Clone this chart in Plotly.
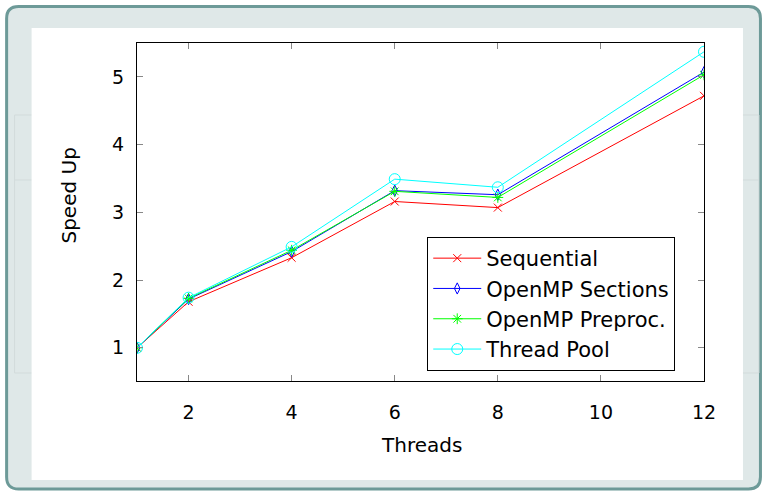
import plotly.graph_objects as go

threads = [1, 2, 4, 6, 8, 12]
sequential = [1.0, 1.68, 2.33, 3.16, 3.07, 4.72]
omp_sections = [1.0, 1.72, 2.42, 3.32, 3.26, 5.07]
omp_preproc = [1.0, 1.73, 2.44, 3.31, 3.22, 5.03]
thread_pool = [1.0, 1.74, 2.49, 3.49, 3.37, 5.37]
x_ticks = [2, 4, 6, 8, 10, 12]
y_ticks = [1, 2, 3, 4, 5]

W, H = 766, 492
L, R, T, B = 136.5, 704, 43, 381

def px(x):
    return (x - L) / (R - L)

def py(y):
    return (B - y) / (B - T)

FONT = "DejaVu Sans"

fig = go.Figure()
series = [
    ("Sequential", sequential, "#ff0000", "x-thin-open", 8),
    ("OpenMP Sections", omp_sections, "#0000ff", "diamond-tall-open", 8),
    ("OpenMP Preproc.", omp_preproc, "#00ff00", "asterisk-open", 9),
    ("Thread Pool", thread_pool, "#00ffff", "circle-open", 11),
]
for name, ys, col, sym, sz in series:
    fig.add_trace(go.Scatter(
        x=threads, y=ys, name=name, mode="lines+markers",
        line=dict(color=col, width=1),
        marker=dict(symbol=sym, size=sz, color=col, line=dict(color=col, width=1)),
    ))

def rpath(xa, xb, ya, yb, rad):
    rx = rad / (R - L)
    ry = rad / (B - T)
    return (f"M {xa+rx},{yb} L {xb-rx},{yb} Q {xb},{yb} {xb},{yb-ry} "
            f"L {xb},{ya+ry} Q {xb},{ya} {xb-rx},{ya} L {xa+rx},{ya} "
            f"Q {xa},{ya} {xa},{ya+ry} L {xa},{yb-ry} Q {xa},{yb} {xa+rx},{yb} Z")

shapes = [
    dict(type="path", xref="paper", yref="paper",
         path=rpath(px(6), px(760.5), py(489), py(6.5), 12),
         fillcolor="#dfe8e8", line=dict(color="#6d9a98", width=3), layer="below"),
    dict(type="rect", xref="paper", yref="paper",
         x0=px(14), x1=px(759), y0=py(373), y1=py(115),
         fillcolor="rgba(0,0,0,0)", line=dict(color="#d2dbdb", width=1), layer="below"),
    dict(type="line", xref="paper", yref="paper",
         x0=px(14), x1=px(759), y0=py(180), y1=py(180),
         line=dict(color="#d2dbdb", width=1), layer="below"),
    dict(type="rect", xref="paper", yref="paper",
         x0=px(31), x1=px(743), y0=py(480), y1=py(28),
         fillcolor="#ffffff", line=dict(width=0), layer="below"),
]

annotations = [
    dict(text="Threads", xref="paper", yref="paper", x=px(421), y=py(445),
         xanchor="center", yanchor="middle", showarrow=False,
         font=dict(family=FONT, size=20)),
    dict(text="Speed Up", xref="paper", yref="paper", x=px(68), y=py(196),
         xanchor="center", yanchor="middle", showarrow=False, textangle=-90,
         font=dict(family=FONT, size=20)),
]

fig.update_layout(
    width=W, height=H,
    margin=dict(l=L, r=W - R, t=T, b=H - B),
    paper_bgcolor="#ffffff",
    plot_bgcolor="rgba(0,0,0,0)",
    font=dict(family=FONT, size=19, color="#000000"),
    showlegend=True,
    legend=dict(x=px(427), y=py(371), xanchor="left", yanchor="bottom",
                bgcolor="#ffffff", bordercolor="#000000", borderwidth=1,
                font=dict(family=FONT, size=21), itemwidth=48,
                tracegroupgap=0),
    shapes=shapes,
    annotations=annotations,
)
fig.update_xaxes(range=[1, 12], tickvals=x_ticks, ticks="inside", ticklen=6,
                 tickcolor="#888888", showline=True, linecolor="#000000", linewidth=1,
                 mirror="ticks", showgrid=False, zeroline=False, ticklabelstandoff=14)
fig.update_yaxes(range=[0.51, 5.5], tickvals=y_ticks, ticks="inside", ticklen=6,
                 tickcolor="#888888", showline=True, linecolor="#000000", linewidth=1,
                 mirror="ticks", showgrid=False, zeroline=False, ticklabelstandoff=8)

fig.write_html("out.html", config={"displayModeBar": False},
               post_script="document.body.style.margin='0';")
